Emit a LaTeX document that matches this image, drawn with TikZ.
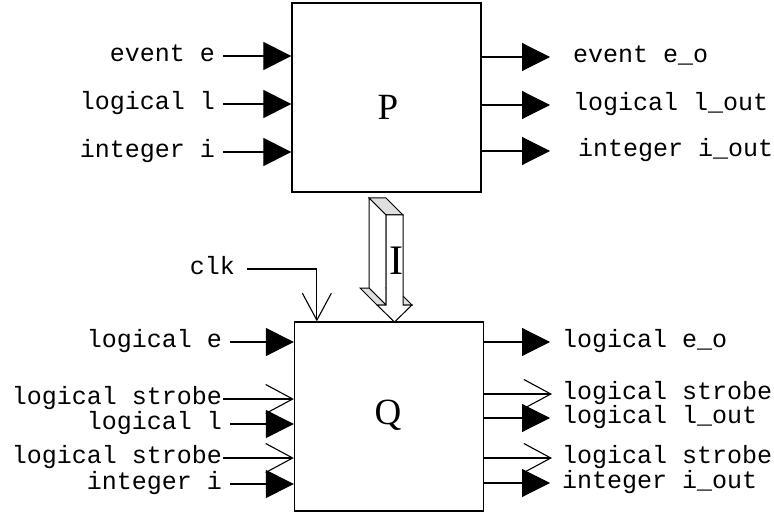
\documentclass[tikz,border=0pt]{standalone}
\usepackage{fontspec}
\setmainfont{Liberation Serif}
\newfontfamily\monofont{Liberation Mono}
\usetikzlibrary{arrows.meta,calc}
\begin{document}
\begin{tikzpicture}[x=1pt,y=-1pt,
  box/.style={draw, line width=1.3pt, minimum width=189pt, minimum height=189pt, inner sep=0pt},
  lbl/.style={font=\monofont\fontsize{25}{27}\selectfont, inner sep=0pt},
  big/.style={font=\fontsize{37}{39}\selectfont, inner sep=0pt},
  wire/.style={line width=1.1pt},
  fillarrow/.style={wire, -{Triangle[length=28pt,width=28pt]}},
  openarrow/.style={wire, -{Straight Barb[length=27pt,width=29pt]}},
  face/.style={draw, line width=1pt, line join=miter},
]
\useasboundingbox (0,0) rectangle (774,513);
% boxes
\node[box] (P) at (386.5,97.5) {};
\node[box] (Q) at (389,416.5) {};
\node[big] (Plbl) at (388,107) {P};
\node[big] (Qlbl) at (388,415) {Q};
% P inputs
\node[lbl, anchor=base east] (pe) at (215,61.5) {event e};
\node[lbl, anchor=base east] (pl) at (215,109.5) {logical l};
\node[lbl, anchor=base east] (pi) at (215,157.5) {integer i};
\foreach \n in {pe,pl,pi}{
  \coordinate (\n0) at ([xshift=8pt,yshift=5.5pt]\n.base east);
  \draw[fillarrow] (\n0) -- (\n0 -| P.west);
}
% P outputs
\node[lbl, anchor=base west] (peo) at (573,62.5) {event e\_o};
\node[lbl, anchor=base west] (plo) at (573,110.5) {logical l\_out};
\node[lbl, anchor=base west] (pio) at (578,156.5) {integer i\_out};
\coordinate (peo0) at ([xshift=-23pt,yshift=5.5pt]peo.base west);
\coordinate (plo0) at ([xshift=-23pt,yshift=5.5pt]plo.base west);
\coordinate (pio0) at ([xshift=-28pt,yshift=5.5pt]pio.base west);
\foreach \n in {peo,plo,pio}{
  \draw[fillarrow] (\n0 -| P.east) -- (\n0);
}
% Q inputs
\node[lbl, anchor=base east] (qe) at (222,347.5) {logical e};
\node[lbl, anchor=base east] (qs1) at (222,404.5) {logical strobe};
\node[lbl, anchor=base east] (ql) at (222,429.5) {logical l};
\node[lbl, anchor=base east] (qs2) at (222,463.5) {logical strobe};
\node[lbl, anchor=base east] (qi) at (222,489.5) {integer i};
\foreach \n in {qe,ql,qi}{
  \coordinate (\n0) at ([xshift=8pt,yshift=5.5pt]\n.base east);
  \draw[fillarrow] (\n0) -- (\n0 -| Q.west);
}
\foreach \n in {qs1,qs2}{
  \coordinate (\n0) at ([xshift=1pt,yshift=5.5pt]\n.base east);
  \draw[openarrow] (\n0) -- (\n0 -| Q.west);
}
% Q outputs
\node[lbl, anchor=base west] (qeo) at (562,347.5) {logical e\_o};
\node[lbl, anchor=base west] (qso1) at (562,399.5) {logical strobe};
\node[lbl, anchor=base west] (qlo) at (562,423.5) {logical l\_out};
\node[lbl, anchor=base west] (qso2) at (562,463.5) {logical strobe};
\node[lbl, anchor=base west] (qio) at (562,488.5) {integer i\_out};
\foreach \n in {qeo,qlo,qio}{
  \coordinate (\n0) at ([xshift=-12pt,yshift=5.5pt]\n.base west);
  \draw[fillarrow] (\n0 -| Q.east) -- (\n0);
}
\foreach \n in {qso1,qso2}{
  \coordinate (\n0) at ([xshift=-10pt,yshift=5.5pt]\n.base west);
  \draw[openarrow] (\n0 -| Q.east) -- (\n0);
}
% clk
\node[lbl, anchor=base east] (clk) at (235,274) {clk};
\coordinate (clk0) at ([xshift=12pt,yshift=5pt]clk.base east);
\coordinate (clkin) at ([xshift=23pt]Q.north west);
\draw[openarrow] (clk0) -| (clkin);
% 3D hollow arrow
\filldraw[face, fill=gray!25] (369,198) -- (386,198) -- (403,215) -- (386,215) -- cycle;
\filldraw[face, fill=white] (369,198) -- (386,215) -- (386,305) -- (369,288) -- cycle;
\filldraw[face, fill=gray!25] (369,288) -- (360,288) -- (377,305) -- (386,305) -- cycle;
\filldraw[face, fill=gray!25] (386,288) -- (395,288) -- (412,305) -- (403,305) -- cycle;
\filldraw[face, fill=white] (386,215) -- (403,215) -- (403,305) -- (412,305) -- (394.5,322) -- (377,305) -- (386,305) -- cycle;
\node[font=\fontsize{42}{44}\selectfont, inner sep=0pt] (Ilbl) at (396,261) {I};
\end{tikzpicture}
\end{document}
